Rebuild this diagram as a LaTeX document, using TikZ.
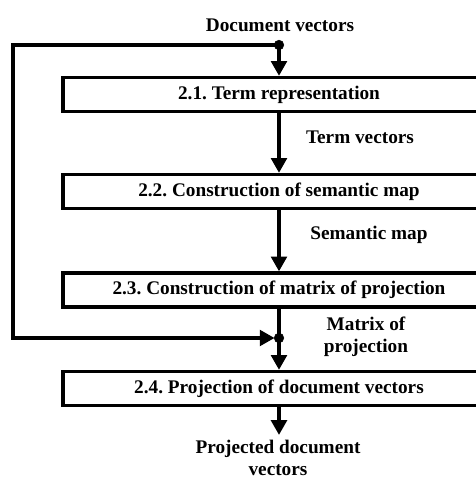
\documentclass[tikz,border=0pt]{standalone}
\usepackage{fontspec}
\setmainfont{Liberation Serif}
\frenchspacing
\usetikzlibrary{arrows.meta}
\tikzset{
Etape/.style={
 draw=black, 
 rectangle, 
 line width=2.3pt, 
 minimum width=10.8cm, 
 minimum height=0.85cm, 
 inner sep=0pt, 
 font=\fontsize{13.7}{16}\selectfont\bfseries
 },
Fleche/.style={
 draw=black, 
 line width=3.4pt, 
 -{Triangle[width=11pt,length=10.5pt]}
 },
Retour/.style={
 draw=black, 
 line width=2.8pt, 
 -{Triangle[width=11pt,length=10.5pt]}
 },
Texte/.style={
 align=center, 
 inner sep=0pt, 
 font=\fontsize{13.7}{15.5}\selectfont\bfseries
 }
}
\begin{document}
\begin{tikzpicture}
\useasboundingbox (0,0) rectangle (11.9,12.025);
\node[Etape] (b1) at (6.975,9.6625) {2.1. Term representation};
\node[Etape] (b2) at (6.975,7.2375) {2.2. Construction of semantic map};
\node[Etape] (b3) at (6.975,4.775) {2.3. Construction of matrix of projection};
\node[Etape] (b4) at (6.975,2.3125) {2.4. Projection of document vectors};
\coordinate (din) at (6.975,10.9);
\coordinate (dout) at (6.975,3.575);
\coordinate (coinh) at (0.325,10.9);
\coordinate (coinb) at (0.325,3.575);
\coordinate (sortie) at (6.975,1.15);
\node[Texte] (ldoc) at (7.0,11.4) {Document vectors};
\node[Texte] (lterm) at (9.0,8.6) {Term vectors};
\node[Texte] (lsem) at (9.225,6.15) {Semantic map};
\node[Texte] (lmat) at (9.15,3.6) {Matrix of\\projection};
\node[Texte] (lproj) at (6.95,0.58) {Projected document\\vectors};
\draw[Fleche] (din) -- (b1.north);
\draw[Fleche] (b1.south) -- (b2.north);
\draw[Fleche] (b2.south) -- (b3.north);
\draw[Fleche] (b3.south) -- (b4.north);
\draw[Fleche] (b4.south) -- (sortie);
\draw[Retour,shorten >=0.11cm] (din) -- (coinh) -- (coinb) -- (dout);
\filldraw (din) circle (0.12);
\filldraw (dout) circle (0.12);
\end{tikzpicture}
\end{document}
